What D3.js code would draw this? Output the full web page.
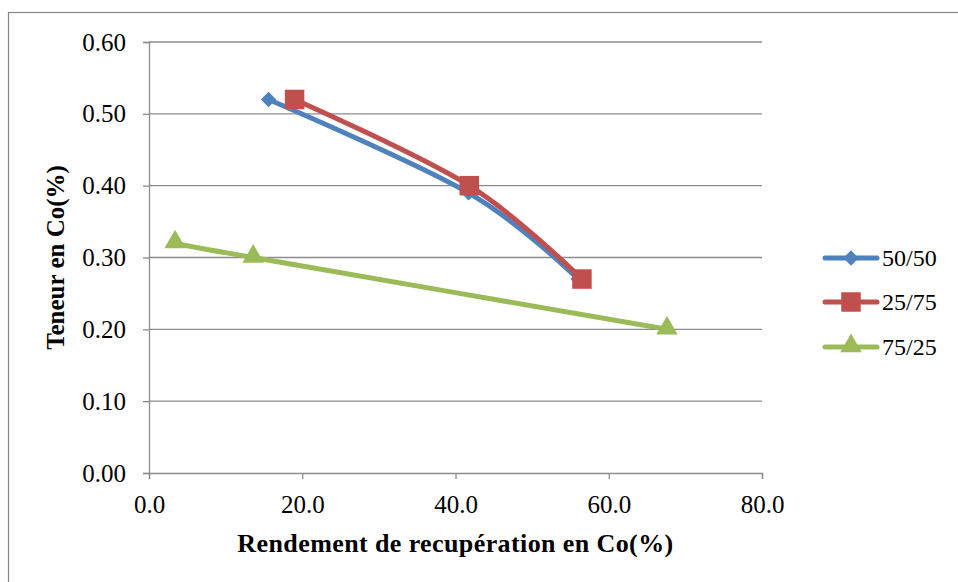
<!DOCTYPE html>
<html>
<head>
<meta charset="utf-8">
<script src="https://cdn.jsdelivr.net/npm/d3@7"></script>
<style>
  body { margin: 0; background: #fff; }
</style>
</head>
<body>
<div id="chart"></div>
<script>
// ==== data ====
const seriesNames = ["50/50", "25/75", "75/25"];
const seriesColors = ["#4f81bd", "#c0504d", "#9bbb59"];
const series5050 = [[15.6, 0.52], [41.7, 0.39], [56.0, 0.27]];
const series2575 = [[19.0, 0.52], [41.8, 0.40], [56.5, 0.27]];
const series7525 = [[3.4, 0.32], [13.6, 0.30], [67.6, 0.20]];
const xTicks = [0, 20, 40, 60, 80];
const yTicks = [0, 0.1, 0.2, 0.3, 0.4, 0.5, 0.6];

const allSeries = [series5050, series2575, series7525];
const FONT = "Liberation Serif";

const W = 958, H = 582;
const margin = { left: 149, right: 196, top: 42, bottom: 109 };

const svg = d3.select("#chart").append("svg")
  .attr("width", W).attr("height", H);

// outer frame (right/bottom edges fall outside the view)
svg.append("rect")
  .attr("x", 8.5).attr("y", 12.5)
  .attr("width", W + 20).attr("height", H + 20)
  .attr("fill", "none").attr("stroke", "#868686").attr("stroke-width", 1.2);

const x = d3.scaleLinear().domain([0, 80]).range([margin.left, W - margin.right]);
const y = d3.scaleLinear().domain([0, 0.6]).range([H - margin.bottom, margin.top]);

// gridlines
svg.append("g")
  .selectAll("line")
  .data(yTicks.slice(1))
  .enter().append("line")
    .attr("x1", x(0)).attr("x2", x(80))
    .attr("y1", d => y(d)).attr("y2", d => y(d))
    .attr("stroke", "#8c8c8c").attr("stroke-width", 1.3);

// y axis
const yAxis = svg.append("g")
  .attr("transform", `translate(${x(0)},0)`)
  .call(d3.axisLeft(y).tickValues(yTicks).tickFormat(d3.format(".2f")).tickSize(6).tickPadding(17));
// x axis
const xAxis = svg.append("g")
  .attr("transform", `translate(0,${y(0)})`)
  .call(d3.axisBottom(x).tickValues(xTicks).tickFormat(d3.format(".1f")).tickSize(6).tickPadding(16));

[yAxis, xAxis].forEach(a => {
  a.select(".domain").attr("stroke", "#8c8c8c").attr("stroke-width", 1.3);
  a.selectAll(".tick line").attr("stroke", "#8c8c8c").attr("stroke-width", 1.3);
  a.selectAll(".tick text")
    .style("font-family", FONT)
    .style("font-size", "25px").attr("fill", "#000");
});

// axis titles
svg.append("text")
  .attr("x", (x(0) + x(80)) / 2).attr("y", 552)
  .attr("text-anchor", "middle")
  .style("font-family", FONT)
  .style("font-size", "26px").style("font-weight", "bold")
  .style("letter-spacing", "0.4px")
  .text("Rendement de recupération en Co(%)");

svg.append("text")
  .attr("transform", `translate(64,${(y(0) + y(0.6)) / 2}) rotate(-90)`)
  .attr("text-anchor", "middle")
  .style("font-family", FONT)
  .style("font-size", "25px").style("font-weight", "bold")
  .text("Teneur en Co(%)");

// marker shapes
const symbols = [
  d3.symbol().type(d3.symbolDiamond2).size(150),
  d3.symbol().type(d3.symbolSquare).size(380),
  d3.symbol().type(d3.symbolTriangle).size(200)
];

const line = d3.line()
  .x(d => x(d[0])).y(d => y(d[1]))
  .curve(d3.curveCatmullRom.alpha(0));

// lines then markers
allSeries.forEach((s, i) => {
  svg.append("path")
    .datum(s)
    .attr("d", line)
    .attr("fill", "none")
    .attr("stroke", seriesColors[i])
    .attr("stroke-width", 5)
    .attr("stroke-linejoin", "round");

  svg.append("g").selectAll("path")
    .data(s)
    .enter().append("path")
      .attr("d", symbols[i])
      .attr("transform", d => `translate(${x(d[0])},${y(d[1]) + (i === 2 ? -1 : 0)})`)
      .attr("fill", seriesColors[i]);
});

// legend
const legendRows = [258, 302, 347];
const legend = svg.append("g");
seriesNames.forEach((name, i) => {
  const ly = legendRows[i];
  legend.append("line")
    .attr("x1", 825).attr("x2", 877)
    .attr("y1", ly).attr("y2", ly)
    .attr("stroke", seriesColors[i]).attr("stroke-width", 5)
    .attr("stroke-linecap", "round");
  legend.append("path")
    .attr("d", symbols[i])
    .attr("transform", `translate(851,${ly + (i === 2 ? -1 : 0)})`)
    .attr("fill", seriesColors[i]);
  legend.append("text")
    .attr("x", 882).attr("y", ly)
    .attr("dy", "0.35em")
    .style("font-family", FONT)
    .style("font-size", "24px")
    .text(name);
});
</script>
</body>
</html>
